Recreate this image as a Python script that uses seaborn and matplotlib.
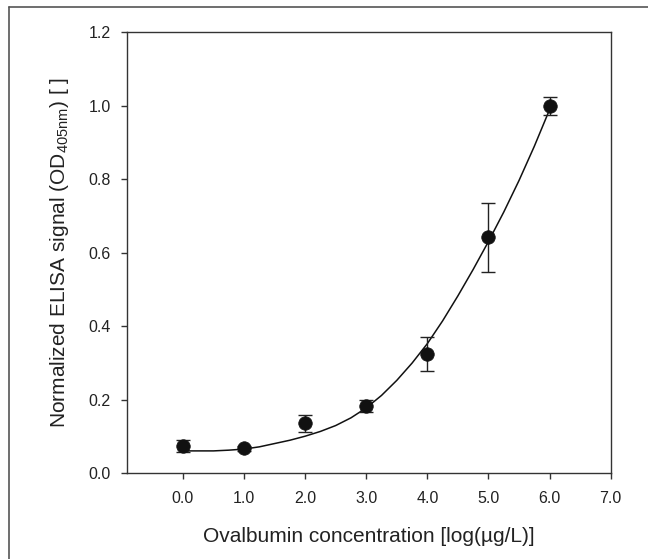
import numpy as np
import pandas as pd
import matplotlib.pyplot as plt
from matplotlib.lines import Line2D
import seaborn as sns

log_conc = [0.0, 1.0, 2.0, 3.0, 4.0, 5.0, 6.0]
signal = [0.074, 0.068, 0.136, 0.184, 0.325, 0.642, 1.0]
signal_sd = [0.017, 0.006, 0.024, 0.016, 0.047, 0.094, 0.024]

# fitted curve as drawn in the figure (read at quarter-log steps)
fit_conc = [0.0, 0.25, 0.5, 0.75, 1.0, 1.25, 1.5, 1.75, 2.0, 2.25, 2.5, 2.75, 3.0,
            3.25, 3.5, 3.75, 4.0, 4.25, 4.5, 4.75, 5.0, 5.25, 5.5, 5.75, 6.0]
fit_signal = [0.061, 0.061, 0.061, 0.063, 0.066, 0.072, 0.081, 0.090, 0.101, 0.114, 0.130, 0.151, 0.178,
              0.212, 0.253, 0.300, 0.353, 0.415, 0.483, 0.555, 0.631, 0.711, 0.797, 0.890, 0.990]

x_ticks = [0.0, 1.0, 2.0, 3.0, 4.0, 5.0, 6.0, 7.0]
y_ticks = [0.0, 0.2, 0.4, 0.6, 0.8, 1.0, 1.2]

pts = pd.DataFrame({"conc": log_conc, "signal": signal, "sd": signal_sd})
fit = pd.DataFrame({"conc": fit_conc, "signal": fit_signal})

sns.set_theme(style="ticks")
plt.rcParams["font.family"] = ["Liberation Sans", "DejaVu Sans"]
plt.rcParams["mathtext.fontset"] = "custom"
plt.rcParams["mathtext.rm"] = "Liberation Sans"

fig = plt.figure(figsize=(6.48, 5.59), dpi=100)
ax = fig.add_axes([0.1955, 0.1533, 0.7469, 0.7886])

sns.lineplot(data=fit, x="conc", y="signal", color="#111111", linewidth=1.1, ax=ax, zorder=2)
ax.errorbar(pts["conc"], pts["signal"], yerr=pts["sd"], fmt="none",
            ecolor="#222222", elinewidth=1.0, capsize=4.7, capthick=1.0, zorder=3)
sns.scatterplot(data=pts, x="conc", y="signal", s=95, color="#111111",
                edgecolor="#111111", linewidth=0.5, ax=ax, zorder=4)

ax.set_xlim(-0.92, 7.0)
ax.set_ylim(0.0, 1.2)
ax.set_xticks(x_ticks)
ax.set_xticklabels([f"{t:.1f}" for t in x_ticks])
ax.set_yticks(y_ticks)
ax.set_yticklabels([f"{t:.1f}" for t in y_ticks])

for side in ["left", "right", "top", "bottom"]:
    ax.spines[side].set_visible(True)
    ax.spines[side].set_linewidth(1.0)
    ax.spines[side].set_color("#333333")

ax.tick_params(axis="both", direction="out", length=4.5, width=1.0, color="#333333",
               labelsize=11.5, labelcolor="#222222", top=False, right=False)
ax.tick_params(axis="x", pad=8.5)
ax.tick_params(axis="y", pad=7)

ax.set_xlabel("Ovalbumin concentration [log(\u00b5g/L)]", fontsize=15, color="#222222")
ax.set_ylabel("Normalized ELISA signal (OD$_{\\mathregular{405nm}}$) [ ]", fontsize=15, color="#222222")
ax.xaxis.set_label_coords(0.5, -0.122)
ax.yaxis.set_label_coords(-0.115, 0.5)

# outer frame of the panel
fig.add_artist(Line2D([0.0144, 0.0144], [0.0, 0.988], transform=fig.transFigure,
                      color="#555555", linewidth=1.2))
fig.add_artist(Line2D([0.0144, 1.0], [0.988, 0.988], transform=fig.transFigure,
                      color="#555555", linewidth=1.2))

fig.savefig("out.png", dpi=100, facecolor="white")
